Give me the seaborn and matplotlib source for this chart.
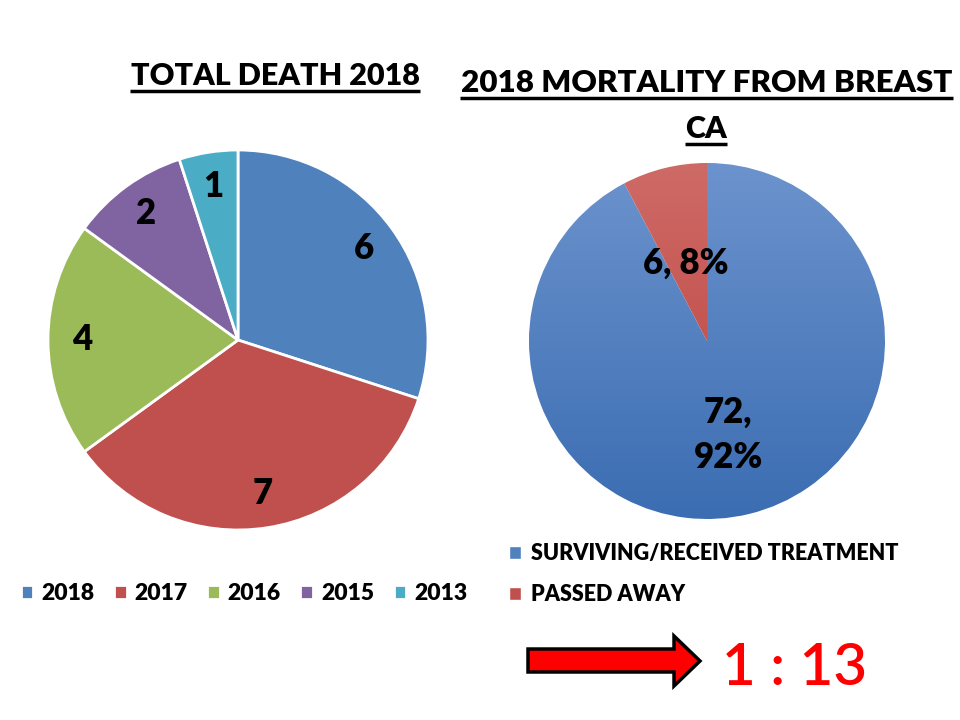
import numpy as np
import matplotlib
matplotlib.use("Agg")
import matplotlib.pyplot as plt
import seaborn as sns
from matplotlib.colors import LinearSegmentedColormap
from matplotlib.patches import Polygon

# --- data ---
years = ["2018", "2017", "2016", "2015", "2013"]
deaths = [6, 7, 4, 2, 1]
year_colors = ["#4F81BD", "#C0504D", "#9BBB59", "#8064A2", "#4BACC6"]

outcome_labels = ["SURVIVING/RECEIVED TREATMENT", "PASSED AWAY"]
outcome_counts = [72, 6]
outcome_colors = ["#4F81BD", "#C0504D"]
# gradient (top, bottom) used to shade the right pie like the office style
outcome_grad = [("#6C93CD", "#3B6DB2"), ("#CE6B67", "#BB3D39")]

left_title = "TOTAL DEATH 2018"
right_title = ["2018 MORTALITY FROM BREAST", "CA"]
ratio_text = "1 : 13"

# --- style ---
sns.set_theme(style="white")
plt.rcParams["font.family"] = ["Lato", "DejaVu Sans"]
plt.rcParams["text.color"] = "black"

W, H = 960, 720
fig = plt.figure(figsize=(W / 100, H / 100), dpi=100)


def px_axes(x0, y0, x1, y1, **kw):
    return fig.add_axes([x0 / W, 1 - y1 / H, (x1 - x0) / W, (y1 - y0) / H], **kw)


# overlay in pixel coords for titles / arrow
ov = px_axes(0, 0, W, H, zorder=5)
ov.set_xlim(0, W)
ov.set_ylim(H, 0)
ov.axis("off")
fig.canvas.draw()
renderer = fig.canvas.get_renderer()


def fit_width(t, target):
    # scale the font so the text spans the target width in pixels
    w = t.get_window_extent(renderer).width
    t.set_fontsize(t.get_fontsize() * target / w)


def underlined(x0, x1, base, txt, ul, lw=2.5):
    t = ov.text((x0 + x1) / 2, base, txt, ha="center", va="baseline",
                fontsize=24, fontweight="heavy", color="black")
    fit_width(t, x1 - x0)
    ov.plot([x0, x1], [ul, ul], color="black", lw=lw, solid_capstyle="butt")
    return t


underlined(130, 420, 85, left_title, 91)
underlined(460, 953, 92, right_title[0], 98)
underlined(685, 727, 138, right_title[1], 144)

# --- left pie ---
ax1 = px_axes(48, 150, 428, 530)
w1, _, at1 = ax1.pie(
    deaths, colors=year_colors, startangle=90, counterclock=False,
    autopct=lambda p: f"{p * sum(deaths) / 100:.0f}", pctdistance=0.82,
    wedgeprops=dict(edgecolor="white", linewidth=2),
    textprops=dict(fontsize=25, fontweight="heavy", color="black"),
)
ax1.set_xlim(-1, 1)
ax1.set_ylim(-1, 1)

fig.legend(w1, years, loc="center", bbox_to_anchor=(244 / W, 1 - 594 / H),
           ncol=5, frameon=False, handlelength=0.55, handleheight=0.55,
           handletextpad=0.35, columnspacing=0.85, labelcolor="black",
           prop=dict(size=16.5, weight="heavy"))

# --- right pie with vertical gradient ---
ax2 = px_axes(529, 163, 885, 519)
total = sum(outcome_counts)
w2, _, at2 = ax2.pie(
    outcome_counts, colors=outcome_colors, startangle=90, counterclock=False,
    autopct=lambda p: (f"{round(p * total / 100)},\n{p:.0f}%" if p > 50
                       else f"{round(p * total / 100)}, {p:.0f}%"),
    pctdistance=0.5,
    textprops=dict(fontsize=25, fontweight="heavy", color="black",
                   linespacing=1.45),
)
grad = np.linspace(0, 1, 256).reshape(-1, 1)
for w, (top, bot) in zip(w2, outcome_grad):
    cmap = LinearSegmentedColormap.from_list("g", [bot, top])
    im = ax2.imshow(grad, extent=(-1, 1, -1, 1), origin="lower", cmap=cmap,
                    aspect="auto", zorder=1.5)
    im.set_clip_path(w)
for t in at2:
    t.set_zorder(3)
at2[0].set_position((at2[0].get_position()[0], at2[0].get_position()[1] - 0.04))
at2[1].set_position((at2[1].get_position()[0], at2[1].get_position()[1] - 0.05))
ax2.set_xlim(-1, 1)
ax2.set_ylim(-1, 1)
ax2.set_aspect("equal")
ax2.axis("off")

fig.legend(w2, outcome_labels, loc="upper left",
           bbox_to_anchor=(490 / W, 1 - 524 / H),
           ncol=1, frameon=False, handlelength=0.55, handleheight=0.55,
           handletextpad=0.45, labelspacing=0.92, labelcolor="black",
           prop=dict(size=15.5, weight="heavy"))

# --- arrow and ratio ---
arrow = Polygon([(528, 649), (674, 649), (674, 636), (700, 661),
                 (674, 686), (674, 672), (528, 672)], closed=True,
                facecolor="#FF0000", edgecolor="black", lw=2.5, zorder=6)
ov.add_patch(arrow)
rt = ov.text(722, 685, ratio_text, ha="left", va="baseline", color="#FF0000",
             fontsize=44, fontweight="semibold")
fit_width(rt, 145)

fig.savefig("out.png", dpi=100)
